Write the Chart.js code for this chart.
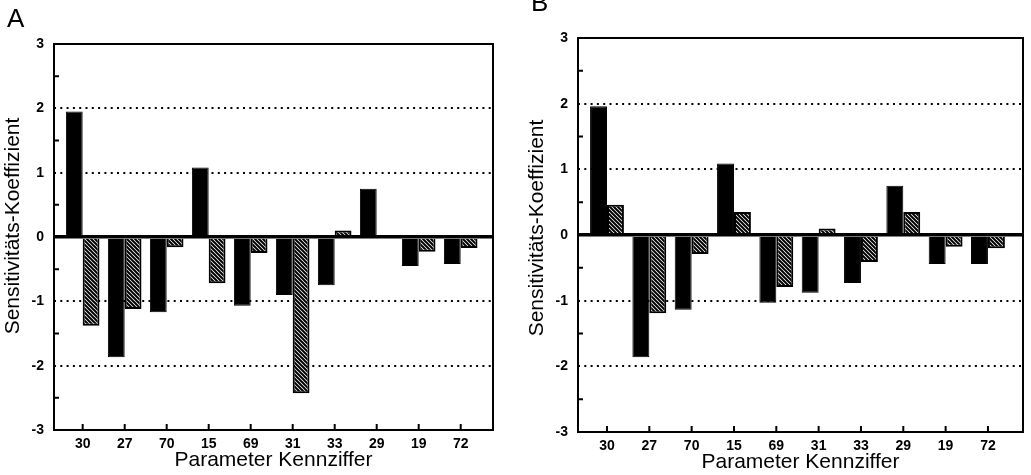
<!DOCTYPE html>
<html>
<head>
<meta charset="utf-8">
<script src="https://cdn.jsdelivr.net/npm/chart.js@4.4.1/dist/chart.umd.min.js"></script>
<style>
  body { margin: 0; background: #fff; }
  #wrap { position: relative; width: 1031px; height: 475px; overflow: hidden;
          font-family: "Liberation Sans", Arial, sans-serif; color: #000; }
  canvas { position: absolute; top: 0; }
  .panel { position: absolute; font-size: 26px; line-height: 1; }
  .ytitle { position: absolute; font-size: 21px; line-height: 1; white-space: nowrap;
            transform: translate(-50%, -50%) rotate(-90deg); }
</style>
</head>
<body>
<div id="wrap">
  <canvas id="chartA" width="515" height="475" style="left:0"></canvas>
  <canvas id="chartB" width="516" height="475" style="left:515px"></canvas>
  <div class="panel" style="left:7px;top:4.6px">A</div>
  <div class="panel" style="left:531px;top:-11.5px">B</div>
  <div class="ytitle" style="left:11px;top:226px">Sensitivitäts-Koeffizient</div>
  <div class="ytitle" style="left:535px;top:228px">Sensitivitäts-Koeffizient</div>
</div>
<script>
// Daten
const CATEGORIES = ['30', '27', '70', '15', '69', '31', '33', '29', '19', '72'];
const Y_TICKS = [-3, -2, -1, 0, 1, 2, 3];
const A_BLACK = [1.95, -1.87, -1.17, 1.08, -1.07, -0.90, -0.75, 0.75, -0.45, -0.42];
const A_HATCH = [-1.38, -1.12, -0.16, -0.72, -0.25, -2.43, 0.10, 0.03, -0.23, -0.17];
const B_BLACK = [1.96, -1.86, -1.14, 1.09, -1.03, -0.88, -0.73, 0.75, -0.44, -0.44];
const B_HATCH = [0.46, -1.19, -0.29, 0.35, -0.79, 0.10, -0.41, 0.35, -0.18, -0.20];

const FONT = '"Liberation Sans", Arial, sans-serif';
const H = 475;

// Schraffur für die zweite Serie
function makeHatch(ctx) {
  const c = document.createElement('canvas');
  c.width = 4; c.height = 4;
  const x = c.getContext('2d');
  x.fillStyle = '#fff';
  x.fillRect(0, 0, 4, 4);
  x.strokeStyle = '#000';
  x.lineWidth = 2;
  x.beginPath();
  x.moveTo(-1, -1); x.lineTo(5, 5);
  x.moveTo(3, -1); x.lineTo(5, 1);
  x.moveTo(-1, 3); x.lineTo(1, 5);
  x.stroke();
  return ctx.createPattern(c, 'repeat');
}

// Rahmen und nach innen zeigende Teilstriche
const framePlugin = {
  id: 'frame',
  afterDatasetsDraw(chart) {
    const { ctx, chartArea: a, scales: { x, y } } = chart;
    ctx.save();
    ctx.strokeStyle = '#000';
    ctx.lineWidth = 2;
    ctx.strokeRect(a.left, a.top, a.right - a.left, a.bottom - a.top);
    ctx.beginPath();
    for (let i = 0; i < Y_TICKS.length - 1; i++) {
      const mid = y.getPixelForValue((Y_TICKS[i] + Y_TICKS[i + 1]) / 2);
      ctx.moveTo(a.left, mid); ctx.lineTo(a.left + 5, mid);
    }
    CATEGORIES.forEach((_, i) => {
      const px = x.getPixelForValue(i);
      ctx.moveTo(px, a.bottom); ctx.lineTo(px, a.bottom - 6);
    });
    ctx.stroke();
    ctx.restore();
  }
};

function makeChart(id, black, hatch, g) {
  const canvas = document.getElementById(id);
  const ctx = canvas.getContext('2d');
  return new Chart(ctx, {
    type: 'bar',
    data: {
      datasets: [
        {
          data: black.map((v, i) => ({ x: i, y: v })),
          backgroundColor: '#000',
          borderColor: '#000',
          borderWidth: 1
        },
        {
          data: hatch.map((v, i) => ({ x: i, y: v })),
          backgroundColor: makeHatch(ctx),
          borderColor: '#000',
          borderWidth: 2
        }
      ]
    },
    options: {
      responsive: false,
      animation: false,
      layout: { padding: { left: 0, top: g.top, right: g.width - g.right, bottom: 0 } },
      datasets: { bar: { categoryPercentage: 0.8, barPercentage: 1.0 } },
      plugins: { legend: { display: false }, tooltip: { enabled: false } },
      scales: {
        x: {
          type: 'linear',
          offset: false,
          min: g.xMin, max: g.xMax,
          afterFit: s => { s.height = H - g.bottom; },
          afterBuildTicks: s => { s.ticks = CATEGORIES.map((_, i) => ({ value: i })); },
          ticks: {
            callback: v => CATEGORIES[v],
            autoSkip: false, maxRotation: 0,
            color: '#000', padding: 7,
            font: { family: FONT, size: 14, weight: 'bold', lineHeight: 1 }
          },
          grid: { display: false, drawTicks: false },
          border: { display: false },
          title: {
            display: true, text: 'Parameter Kennziffer', color: '#000',
            font: { family: FONT, size: 21, lineHeight: 1 },
            padding: { top: 0, bottom: g.titlePad }
          }
        },
        y: {
          min: -3, max: 3,
          afterFit: s => { s.width = g.left; },
          afterBuildTicks: s => { s.ticks = Y_TICKS.map(v => ({ value: v })); },
          ticks: {
            color: '#000', padding: 10,
            font: { family: FONT, size: 14, weight: 'bold', lineHeight: 1 }
          },
          grid: {
            drawTicks: false,
            color: c => (Math.abs(c.tick.value) === 3 ? 'rgba(0,0,0,0)' : '#000'),
            lineWidth: c => (c.tick.value === 0 ? 3.5 : 2)
          },
          border: {
            display: false,
            dash: c => (c.tick && c.tick.value === 0 ? [] : [2, 4.3])
          }
        }
      }
    },
    plugins: [framePlugin]
  });
}

makeChart('chartA', A_BLACK, A_HATCH,
  { width: 515, left: 54, right: 493, top: 44, bottom: 430, xMin: -0.683, xMax: 9.769, titlePad: 4 });
makeChart('chartB', B_BLACK, B_HATCH,
  { width: 516, left: 63, right: 508, top: 38, bottom: 432, xMin: -0.685, xMax: 9.828, titlePad: 2.5 });
</script>
</body>
</html>
